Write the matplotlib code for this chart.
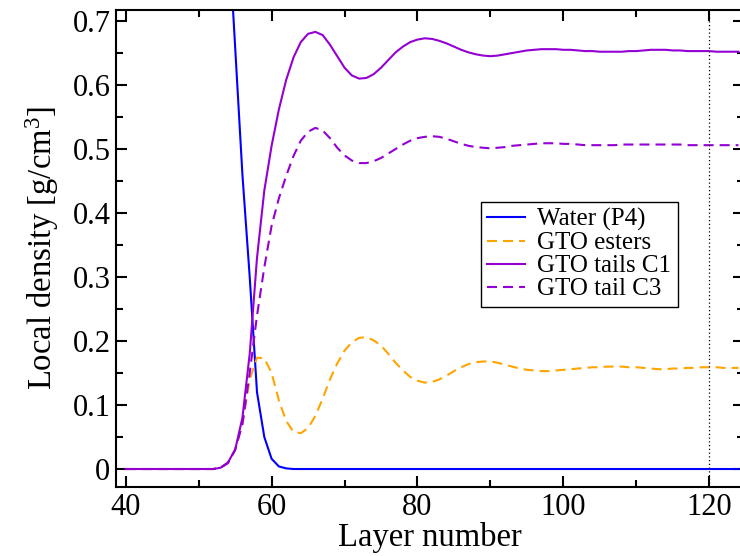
import numpy as np
import matplotlib
matplotlib.use("Agg")
import matplotlib.pyplot as plt
from matplotlib.ticker import MultipleLocator

plt.rcParams['font.family'] = ['Liberation Serif', 'DejaVu Serif']
plt.rcParams['mathtext.fontset'] = 'custom'
plt.rcParams['mathtext.rm'] = 'Liberation Serif'
plt.rcParams['mathtext.it'] = 'Liberation Serif:italic'

# layer numbers 40..124
layers = np.arange(40, 125)

# local density profiles [g/cm^3], one value per layer
water = [1.0, 1.0, 1.0, 1.0, 1.0, 1.0, 1.0, 1.0, 1.0, 1.0,        # 40-49
         1.0, 1.0, 0.99, 0.95, 0.86, 0.66, 0.46, 0.30, 0.12, 0.05,  # 50-59
         0.016, 0.004, 0.001, 0.0, 0.0, 0.0, 0.0, 0.0, 0.0, 0.0,    # 60-69
         0.0, 0.0, 0.0, 0.0, 0.0, 0.0, 0.0, 0.0, 0.0, 0.0,          # 70-79
         0.0, 0.0, 0.0, 0.0, 0.0, 0.0, 0.0, 0.0, 0.0, 0.0,          # 80-89
         0.0, 0.0, 0.0, 0.0, 0.0, 0.0, 0.0, 0.0, 0.0, 0.0,          # 90-99
         0.0, 0.0, 0.0, 0.0, 0.0, 0.0, 0.0, 0.0, 0.0, 0.0,          # 100-109
         0.0, 0.0, 0.0, 0.0, 0.0, 0.0, 0.0, 0.0, 0.0, 0.0,          # 110-119
         0.0, 0.0, 0.0, 0.0, 0.0]                                   # 120-124

esters = [0.0, 0.0, 0.0, 0.0, 0.0, 0.0, 0.0, 0.0, 0.0, 0.0,
          0.0, 0.0, 0.0, 0.002, 0.01, 0.03, 0.07, 0.14, 0.174, 0.173,
          0.15, 0.107, 0.075, 0.058, 0.056, 0.064, 0.083, 0.11, 0.14, 0.165,
          0.185, 0.198, 0.205, 0.206, 0.201, 0.193, 0.18, 0.166, 0.154, 0.144,
          0.138, 0.135, 0.136, 0.14, 0.146, 0.153, 0.159, 0.164, 0.167, 0.168,
          0.168, 0.166, 0.163, 0.16, 0.157, 0.155, 0.154, 0.153, 0.153, 0.154,
          0.155, 0.156, 0.157, 0.158, 0.159, 0.159, 0.16, 0.16, 0.16, 0.159,
          0.159, 0.158, 0.157, 0.156, 0.156, 0.157, 0.157, 0.158, 0.158, 0.159,
          0.159, 0.159, 0.158, 0.158, 0.158]

tails_c1 = [0.0, 0.0, 0.0, 0.0, 0.0, 0.0, 0.0, 0.0, 0.0, 0.0,
            0.0, 0.0, 0.0, 0.002, 0.01, 0.03, 0.08, 0.18, 0.33, 0.435,
            0.505, 0.562, 0.608, 0.643, 0.667, 0.68, 0.683, 0.678, 0.663, 0.645,
            0.627, 0.615, 0.61, 0.611, 0.617, 0.627, 0.639, 0.651, 0.66, 0.667,
            0.671, 0.673, 0.672, 0.669, 0.665, 0.66, 0.655, 0.651, 0.648, 0.646,
            0.645, 0.646, 0.648, 0.65, 0.652, 0.654, 0.655, 0.656, 0.656, 0.656,
            0.655, 0.655, 0.654, 0.653, 0.653, 0.652, 0.652, 0.652, 0.652, 0.653,
            0.653, 0.654, 0.655, 0.655, 0.655, 0.654, 0.654, 0.653, 0.653, 0.653,
            0.653, 0.652, 0.652, 0.652, 0.652]

tail_c3 = [0.0, 0.0, 0.0, 0.0, 0.0, 0.0, 0.0, 0.0, 0.0, 0.0,
           0.0, 0.0, 0.0, 0.002, 0.009, 0.03, 0.07, 0.15, 0.24, 0.315,
           0.38, 0.423, 0.458, 0.489, 0.513, 0.527, 0.533, 0.529, 0.517, 0.502,
           0.49, 0.482, 0.478, 0.478, 0.481, 0.486, 0.493, 0.5, 0.507, 0.513,
           0.517, 0.519, 0.52, 0.519, 0.516, 0.512, 0.508, 0.505, 0.503, 0.502,
           0.501, 0.502, 0.503, 0.505, 0.506, 0.507, 0.508, 0.509, 0.509, 0.509,
           0.508, 0.508, 0.507, 0.506, 0.506, 0.506, 0.506, 0.506, 0.507, 0.507,
           0.507, 0.507, 0.507, 0.507, 0.507, 0.507, 0.507, 0.506, 0.506, 0.506,
           0.506, 0.506, 0.506, 0.506, 0.506]

fig = plt.figure(figsize=(7.4, 5.56), dpi=100)
ax = fig.add_axes([116 / 740, 69 / 556, 628 / 740, 477 / 556])

dash = (0, (4.8, 2.9))
ax.plot(layers, water, color='#0000ff', lw=1.5, label='Water (P4)')
ax.plot(layers, esters, color='#ffa500', lw=1.5, ls=dash, label='GTO esters')
ax.plot(layers, tails_c1, color='#9400d3', lw=1.5, label='GTO tails C1')
ax.plot(layers, tail_c3, color='#9400d3', lw=1.5, ls=dash, label='GTO tail C3')
ax.axvline(120, color='black', lw=0.9, ls=(0, (1, 2)))

ax.set_xlim(38.67, 124.76)
ax.set_ylim(-0.0281, 0.7172)
ax.xaxis.set_major_locator(MultipleLocator(20))
ax.xaxis.set_minor_locator(MultipleLocator(10))
ax.yaxis.set_major_locator(MultipleLocator(0.1))
ax.yaxis.set_minor_locator(MultipleLocator(0.05))
ax.set_yticks(np.arange(0, 0.75, 0.1))
ax.set_yticklabels(['0', '0.1', '0.2', '0.3', '0.4', '0.5', '0.6', '0.7'])

ax.tick_params(which='both', direction='in', top=True, right=True, labelsize=22)
ax.tick_params(which='major', length=8, width=1.5, pad=4)
ax.tick_params(which='minor', length=5, width=1.5)
for s in ax.spines.values():
    s.set_linewidth(1.5)

ax.set_xlabel('Layer number', fontsize=23.5, labelpad=0)
ax.set_ylabel(r'Local density [g/cm$^{3}$]', fontsize=23.5, labelpad=8)

leg = ax.legend(loc='upper left', bbox_to_anchor=((481 - 116) / 628, (487 - 202) / 477),
                fontsize=18, frameon=True, fancybox=False, framealpha=1,
                edgecolor='black', borderpad=0.25, labelspacing=0.02,
                handlelength=1.5, handletextpad=0.5, borderaxespad=0)
leg.get_frame().set_linewidth(1.0)

fig.savefig('out.png', dpi=100)
